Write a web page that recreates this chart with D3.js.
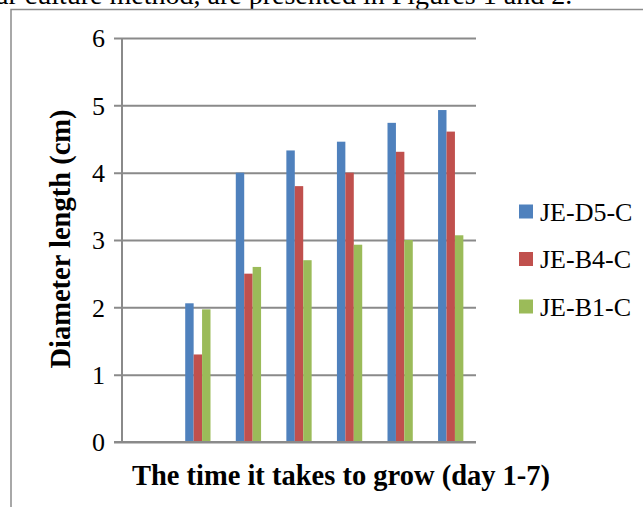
<!DOCTYPE html>
<html>
<head>
<meta charset="utf-8">
<script src="https://cdn.jsdelivr.net/npm/d3@7"></script>
<style>
  html, body { margin: 0; padding: 0; background: #fff; overflow: hidden; }
  svg { display: block; }
</style>
</head>
<body>
<svg id="chart" width="643" height="507"></svg>
<script>
// Growth days (category axis, labels not shown on the axis)
const days = ["1", "2", "3", "4", "5", "6", "7"];

// Diameter length (cm) per day for each isolate
const seriesNames = ["JE-D5-C", "JE-B4-C", "JE-B1-C"];
const valuesD5 = [null, 2.06, 4.00, 4.33, 4.46, 4.74, 4.93];
const valuesB4 = [null, 1.30, 2.50, 3.80, 4.00, 4.31, 4.61];
const valuesB1 = [null, 1.97, 2.60, 2.70, 2.93, 3.00, 3.07];
const seriesColors = ["#4F81BD", "#C0504D", "#9BBB59"];

const yTicks = [0, 1, 2, 3, 4, 5, 6];

const series = [valuesD5, valuesB4, valuesB1];

const svg = d3.select("#chart");
const serif = "'Liberation Serif', 'DejaVu Serif', serif";
const gridColor = "#8a8a8a";

// Running text of the surrounding document, running past the page top
svg.append("text")
  .attr("x", -4).attr("y", 3.5)
  .attr("font-family", serif).attr("font-size", 28)
  .attr("fill", "#000")
  .text("ar culture method, are presented in Figures 1 and 2.");

// Chart frame
svg.append("rect")
  .attr("x", 11).attr("y", 9.5)
  .attr("width", 700).attr("height", 600)
  .attr("fill", "none").attr("stroke", "#8c8c8c").attr("stroke-width", 1.5);

const plot = { left: 122, right: 476, top: 38, bottom: 442 };

const y = d3.scaleLinear().domain([0, 6]).range([plot.bottom, plot.top]);
const x = d3.scaleBand().domain(days)
  .range([plot.left, plot.right])
  .paddingInner(0.5).paddingOuter(0.25);
const xs = d3.scaleBand().domain(d3.range(seriesNames.length))
  .range([0, x.bandwidth()]);

// Horizontal gridlines with outward tick marks and labels
const yAxis = d3.axisLeft(y).tickValues(yTicks)
  .tickSize(-(plot.right - plot.left)).tickPadding(17)
  .tickFormat(d3.format("d"));
const gy = svg.append("g")
  .attr("transform", `translate(${plot.left},0)`)
  .call(yAxis);
gy.select(".domain").remove();
gy.selectAll(".tick line")
  .attr("x1", -8)
  .attr("stroke", gridColor).attr("stroke-width", 2);
gy.selectAll(".tick text")
  .attr("font-family", serif).attr("font-size", 26)
  .attr("fill", "#000").attr("dy", "0.34em");

// Vertical value axis line
svg.append("line")
  .attr("x1", plot.left).attr("x2", plot.left)
  .attr("y1", plot.top).attr("y2", plot.bottom)
  .attr("stroke", gridColor).attr("stroke-width", 2);

// Bars
const groups = svg.append("g").selectAll("g")
  .data(series)
  .join("g")
  .attr("fill", (d, i) => seriesColors[i]);

groups.each(function (vals, si) {
  d3.select(this).selectAll("rect")
    .data(days.map((d, i) => ({ day: d, v: vals[i] })).filter(d => d.v != null))
    .join("rect")
    .attr("x", d => x(d.day) + xs(si))
    .attr("width", xs.bandwidth())
    .attr("y", d => y(d.v))
    .attr("height", d => y(0) - y(d.v));
});

// Redraw baseline above bar bottoms
svg.append("line")
  .attr("x1", plot.left - 8).attr("x2", plot.right)
  .attr("y1", y(0)).attr("y2", y(0))
  .attr("stroke", gridColor).attr("stroke-width", 2);

// Axis titles
svg.append("text")
  .attr("transform", `translate(70,239) rotate(-90)`)
  .attr("text-anchor", "middle")
  .attr("font-family", serif).attr("font-size", 28.5).attr("font-weight", "bold")
  .attr("fill", "#000")
  .text("Diameter length (cm)");

svg.append("text")
  .attr("x", 341).attr("y", 485)
  .attr("text-anchor", "middle")
  .attr("font-family", serif).attr("font-size", 28.5).attr("font-weight", "bold")
  .attr("fill", "#000")
  .text("The time it takes to grow (day 1-7)");

// Legend
const legend = svg.append("g").selectAll("g")
  .data(seriesNames)
  .join("g")
  .attr("transform", (d, i) => `translate(519,${211.5 + i * 47.5})`);
legend.append("rect")
  .attr("x", 0).attr("y", -7).attr("width", 14).attr("height", 14)
  .attr("fill", (d, i) => seriesColors[i]);
legend.append("text")
  .attr("x", 21).attr("y", 0).attr("dy", "0.35em")
  .attr("font-family", serif).attr("font-size", 26)
  .attr("fill", "#000")
  .text(d => d);
</script>
</body>
</html>
